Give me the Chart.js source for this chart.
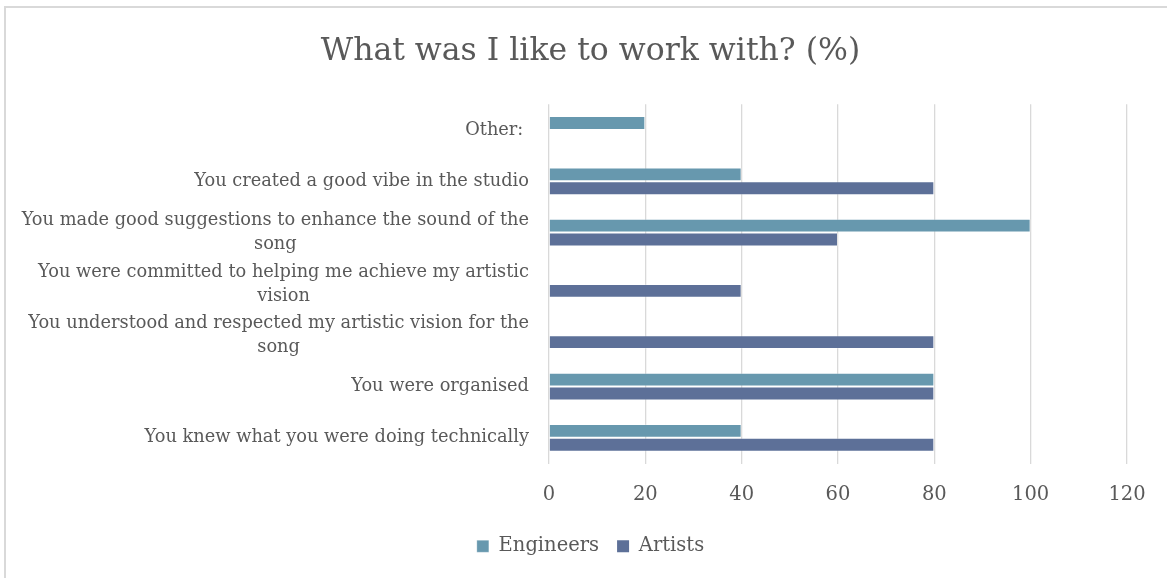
<!doctype html>
<html lang="en">
<head>
<meta charset="utf-8">
<title>What was I like to work with? (%)</title>
<script src="https://cdn.jsdelivr.net/npm/chart.js@4.4.1/dist/chart.umd.min.js"></script>
<style>
  html, body { margin: 0; padding: 0; background: #fff; overflow: hidden; }
  #frame { position: absolute; left: 4px; top: 6px; width: 1300px; height: 700px;
           border-left: 2px solid #d9d9d9; border-top: 2px solid #d9d9d9; }
  #wrap { position: absolute; left: 0; top: 0; width: 1167px; height: 578px; }
</style>
</head>
<body>
<div id="frame"></div>
<div id="wrap"><canvas id="myChart" width="1167" height="578"></canvas></div>
<script>
// survey answers, top row first
var categories = [
  ["Other: "],
  ["You created a good vibe in the studio"],
  ["You made good suggestions to enhance the sound of the", "song"],
  ["You were committed to helping me achieve my artistic", "vision"],
  ["You understood and respected my artistic vision for the", "song"],
  ["You were organised"],
  ["You knew what you were doing technically"]
];
var engineers = [20, 40, 100, 0, 0, 80, 40];
var artists   = [0, 80, 60, 40, 80, 80, 80];
var xTicks    = [0, 20, 40, 60, 80, 100, 120];

var serif = "'DejaVu Serif', 'Liberation Serif', serif";
var grey = '#595959';

// category labels: right aligned block, wrapped lines centred inside it
var sideLabels = {
  id: 'sideLabels',
  afterDraw: function (chart) {
    var ctx = chart.ctx, y = chart.scales.y;
    var right = chart.chartArea.left - 20;
    ctx.save();
    ctx.font = '17.8px ' + serif;
    ctx.fillStyle = grey;
    ctx.textAlign = 'center';
    ctx.textBaseline = 'middle';
    categories.forEach(function (lines, i) {
      var w = 0;
      lines.forEach(function (l) { w = Math.max(w, ctx.measureText(l).width); });
      var cy = y.getPixelForTick(i);
      lines.forEach(function (l, j) {
        ctx.fillText(l, right - w / 2, cy + (j - (lines.length - 1) / 2) * 24);
      });
    });
    ctx.restore();
  }
};

var chart = new Chart(document.getElementById('myChart').getContext('2d'), {
  type: 'bar',
  data: {
    labels: categories,
    datasets: [
      { label: 'Engineers', data: engineers, backgroundColor: '#6798ae',
        borderColor: 'rgba(255,255,255,0.25)', borderWidth: function (c) { return c.raw ? 1 : 0; } },
      { label: 'Artists', data: artists, backgroundColor: '#5d7098',
        borderColor: 'rgba(255,255,255,0.25)', borderWidth: function (c) { return c.raw ? 1 : 0; } }
    ]
  },
  options: {
    indexAxis: 'y',
    responsive: false,
    animation: false,
    barPercentage: 1,
    categoryPercentage: 0.54,
    layout: { padding: { left: 54, right: 40, top: 0, bottom: 12 } },
    plugins: {
      title: {
        display: true,
        text: 'What was I like to work with? (%)',
        color: grey,
        font: { family: serif, size: 31.5, weight: 'normal' },
        padding: { top: 33, bottom: 33.5 }
      },
      legend: {
        position: 'bottom',
        labels: {
          color: grey,
          font: { family: serif, size: 19.5 },
          boxWidth: 12, boxHeight: 12,
          padding: 18
        }
      },
      tooltip: { enabled: false }
    },
    scales: {
      x: {
        min: 0, max: 120,
        afterBuildTicks: function (s) { s.ticks = xTicks.map(function (v) { return { value: v }; }); },
        grid: { color: '#d9d9d9', lineWidth: 1.3, drawTicks: false },
        border: { display: false },
        ticks: { color: grey, font: { family: serif, size: 19.5 }, padding: 20 },
        afterFit: function (s) { s.height = 55; }
      },
      y: {
        grid: { display: false },
        border: { display: false },
        ticks: { display: false },
        afterFit: function (s) { s.width = 495; }
      }
    }
  },
  plugins: [sideLabels]
});
</script>
</body>
</html>
